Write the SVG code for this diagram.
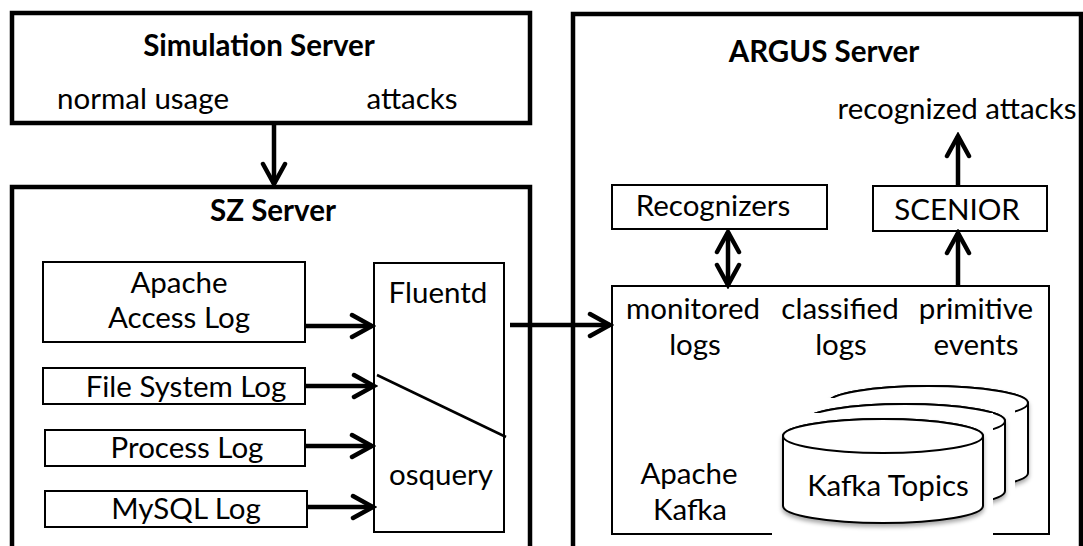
<svg xmlns="http://www.w3.org/2000/svg" width="1083" height="546" viewBox="0 0 1083 546">
<style>
text{font-family:Lato,"Liberation Sans",sans-serif;font-size:29.5px;fill:#000;text-anchor:middle}
.b{font-weight:bold}
.big{fill:none;stroke:#000;stroke-width:4.5}
.box{fill:#fff;stroke:#000;stroke-width:2}
.ln{fill:none;stroke:#000;stroke-width:4.5}
.thin{fill:none;stroke:#000;stroke-width:2.5}
.cyl{fill:#fff;stroke:#000;stroke-width:2}
.mask{fill:#fff;stroke:none}
</style>
<defs>
<marker id="ah" markerUnits="userSpaceOnUse" viewBox="-26 -16 30 32" markerWidth="30" markerHeight="32" refX="0" refY="0" orient="auto-start-reverse">
<path d="M-20,-11 L0,0 L-20,11" fill="none" stroke="#000" stroke-width="4.5" stroke-linejoin="miter" stroke-linecap="round"/>
</marker>
<filter id="sh" x="-10%" y="-10%" width="120%" height="130%">
<feDropShadow dx="0" dy="3" stdDeviation="2" flood-color="#000" flood-opacity="0.35"/>
</filter>
</defs>

<g id="simulation-server">
<rect class="big" x="12" y="13" width="518" height="110"/>
<text class="b" x="259" y="56">Simulation Server</text>
<text x="143" y="109">normal usage</text>
<text x="412" y="109">attacks</text>
</g>

<g id="sz-server">
<rect class="big" x="12" y="187" width="518" height="380"/>
<text class="b" x="273" y="221">SZ Server</text>
</g>

<g id="argus-server">
<rect class="big" x="573" y="14" width="508" height="560"/>
<text class="b" x="824" y="62">ARGUS Server</text>
</g>

<g id="apache-access-log">
<rect class="box" x="43" y="262" width="262" height="80"/>
<text x="179" y="293">Apache</text>
<text x="179" y="328">Access Log</text>
</g>
<g id="file-system-log">
<rect class="box" x="43" y="368" width="262" height="36"/>
<text x="186" y="397">File System Log</text>
</g>
<g id="process-log">
<rect class="box" x="45" y="430" width="260" height="36"/>
<text x="187" y="458">Process Log</text>
</g>
<g id="mysql-log">
<rect class="box" x="45" y="491" width="262" height="36"/>
<text x="186" y="519">MySQL Log</text>
</g>

<g id="fluentd-osquery">
<rect class="box" x="374" y="263" width="130" height="269"/>
<line class="thin" x1="377" y1="375" x2="506" y2="437"/>
<text x="438" y="303">Fluentd</text>
<text x="441" y="485">osquery</text>
</g>

<g id="recognizers">
<rect class="box" x="612" y="185" width="215" height="44"/>
<text x="713" y="216">Recognizers</text>
</g>

<g id="scenior">
<rect class="box" x="873" y="186" width="174" height="45"/>
<text x="957" y="220">SCENIOR</text>
</g>

<g id="recognized-attacks">
<text x="957" y="119">recognized attacks</text>
</g>

<g id="apache-kafka">
<rect class="box" x="612" y="286" width="437" height="248"/>
<text x="693" y="319">monitored</text>
<text x="695" y="355">logs</text>
<text x="840" y="319">classified</text>
<text x="841" y="355">logs</text>
<text x="976" y="319">primitive</text>
<text x="976" y="355">events</text>
<text x="689" y="484">Apache</text>
<text x="690" y="520">Kafka</text>
</g>

<g id="kafka-topics">
<rect class="mask" x="818" y="380" width="220" height="110"/>
<path class="cyl" filter="url(#sh)" d="M828,403 V473 A100,17 0 0 0 1028,473 V403 A100,17 0 0 0 828,403 Z"/>
<ellipse class="cyl" cx="928" cy="403" rx="100" ry="17"/>
<rect class="mask" x="795" y="398" width="220" height="110"/>
<path class="cyl" filter="url(#sh)" d="M805,421 V491 A100,17 0 0 0 1005,491 V421 A100,17 0 0 0 805,421 Z"/>
<ellipse class="cyl" cx="905" cy="421" rx="100" ry="17"/>
<rect class="mask" x="772" y="413" width="221" height="124"/>
<path class="cyl" filter="url(#sh)" d="M783,436 V506 A100,17 0 0 0 983,506 V436 A100,17 0 0 0 783,436 Z"/>
<ellipse class="cyl" cx="883" cy="436" rx="100" ry="17"/>
<text x="888" y="496">Kafka Topics</text>
</g>

<g id="connectors">
<line class="ln" x1="274" y1="125" x2="274" y2="184" marker-end="url(#ah)"/>
<line class="ln" x1="305" y1="326" x2="372" y2="326" marker-end="url(#ah)"/>
<line class="ln" x1="305" y1="386" x2="374" y2="386" marker-end="url(#ah)"/>
<line class="ln" x1="305" y1="446" x2="372" y2="446" marker-end="url(#ah)"/>
<line class="ln" x1="307" y1="507" x2="373" y2="507" marker-end="url(#ah)"/>
<line class="ln" x1="510" y1="325" x2="610" y2="325" marker-end="url(#ah)"/>
<line class="ln" x1="728" y1="232" x2="728" y2="285" marker-start="url(#ah)" marker-end="url(#ah)"/>
<line class="ln" x1="958" y1="286" x2="958" y2="233" marker-end="url(#ah)"/>
<line class="ln" x1="958" y1="185" x2="958" y2="136" marker-end="url(#ah)"/>
</g>
</svg>
